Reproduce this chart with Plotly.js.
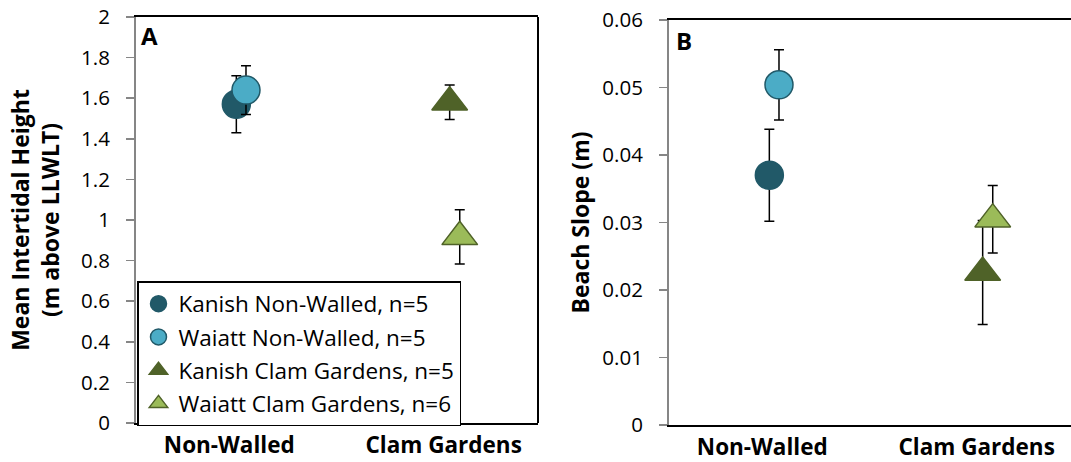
<!DOCTYPE html>
<html>
<head>
<meta charset="utf-8">
<script src="https://cdn.plot.ly/plotly-3.0.1.min.js"></script>
<style>html,body{margin:0;padding:0;background:#fff;}#chart{width:1071px;height:462px;}</style>
</head>
<body>
<div id="chart"></div>
<script>
// Data
const categories = ["Non-Walled", "Clam Gardens"];
const seriesNames = ["Kanish Non-Walled, n=5", "Waiatt Non-Walled, n=5", "Kanish Clam Gardens, n=5", "Waiatt Clam Gardens, n=6"];
const seriesCategory = [0, 0, 1, 1];
const seriesOffset = [0.033, 0.078, 0.028, 0.075];
const heightMean = [1.57, 1.64, 1.58, 0.917];
const heightErr  = [0.14, 0.12, 0.085, 0.134];
const slopeMean  = [0.0370, 0.0504, 0.0226, 0.0305];
const slopeErr   = [0.0068, 0.0052, 0.0077, 0.0050];
const heightTicks = [0, 0.2, 0.4, 0.6, 0.8, 1, 1.2, 1.4, 1.6, 1.8, 2];
const heightTickText = ["0", "0.2", "0.4", "0.6", "0.8", "1", "1.2", "1.4", "1.6", "1.8", "2"];
const slopeTicks = [0, 0.01, 0.02, 0.03, 0.04, 0.05, 0.06];
const slopeTickText = ["0", "0.01", "0.02", "0.03", "0.04", "0.05", "0.06"];

// Styles
const fillColors = ["#215968", "#4BACC6", "#4F6228", "#9BBB59"];
const lineColors = ["#215968", "#215968", "#4F6228", "#4F6228"];
const symbols = ["circle", "circle", "triangle-up", "triangle-up"];
const sizes = [28, 28, 31, 31];
const FONT = "'Open Sans', 'Noto Sans', sans-serif";

const traces = [];
function addPanel(means, errs, xa, ya, showLegend) {
  for (let i = 0; i < means.length; i++) {
    traces.push({
      type: "scatter", mode: "markers",
      x: [seriesCategory[i] + 1 + seriesOffset[i]],
      y: [means[i]],
      name: seriesNames[i],
      legendgroup: "g" + i,
      showlegend: showLegend,
      xaxis: xa, yaxis: ya,
      marker: {symbol: symbols[i], size: sizes[i], color: fillColors[i],
               line: {color: lineColors[i], width: 1.5}},
      error_y: {type: "data", array: [errs[i]], visible: true, color: "#000", thickness: 1.5, width: 5}
    });
  }
}
addPanel(heightMean, heightErr, "x", "y", true);
addPanel(slopeMean, slopeErr, "x2", "y2", false);

const W = 1071, H = 462;
const xA = [136 / W, 538 / W], yA = [(H - 423) / H, (H - 17) / H];
const xB = [669 / W, 1], yB = [(H - 425) / H, (H - 20) / H];

const xCommon = {
  range: [0.565, 2.44], tickvals: [1, 2], ticktext: categories,
  showline: true, linecolor: "#000", linewidth: 2, mirror: true,
  ticks: "", showgrid: false, zeroline: false, fixedrange: true,
  ticklabelstandoff: 1,
  tickfont: {family: FONT, size: 22.5, color: "#000", weight: "bold"}
};
const yCommon = {
  showline: true, linecolor: "#868686", linewidth: 2,
  ticks: "outside", ticklen: 8, tickcolor: "#868686", tickwidth: 1.5,
  showgrid: false, zeroline: false, fixedrange: true,
  ticklabelstandoff: 12,
  tickfont: {family: FONT, size: 20.5, color: "#000"}
};

const layout = {
  width: W, height: H,
  margin: {l: 0, r: 0, t: 0, b: 0},
  paper_bgcolor: "#fff", plot_bgcolor: "#fff",
  font: {family: FONT, color: "#000"},
  showlegend: true,
  xaxis: Object.assign({}, xCommon, {domain: xA, anchor: "y"}),
  yaxis: Object.assign({}, yCommon, {domain: yA, anchor: "x", range: [0, 2],
    tickvals: heightTicks, ticktext: heightTickText,
    title: {text: "Mean Intertidal Height<br>(m above LLWLT)", standoff: 15,
            font: {family: FONT, size: 23, color: "#000", weight: "bold"}}}),
  xaxis2: Object.assign({}, xCommon, {domain: xB, anchor: "y2"}),
  yaxis2: Object.assign({}, yCommon, {domain: yB, anchor: "x2", range: [0, 0.06],
    tickvals: slopeTicks, ticktext: slopeTickText,
    title: {text: "Beach Slope (m)", standoff: 6,
            font: {family: FONT, size: 23, color: "#000", weight: "bold"}}}),
  legend: {
    x: 137 / W, y: (H - 281) / H, xanchor: "left", yanchor: "top",
    bgcolor: "#fff", bordercolor: "#000", borderwidth: 1.5,
    font: {family: FONT, size: 22.5, color: "#000"},
    tracegroupgap: 1, itemclick: false, itemdoubleclick: false
  },
  shapes: [
    {type: "line", xref: "x domain", yref: "y domain", x0: 1, x1: 1, y0: 0, y1: 1,
     line: {color: "#000", width: 2}}
  ],
  annotations: [
    {text: "A", xref: "paper", yref: "paper", x: 139 / W, y: (H - 17) / H, xanchor: "left", yanchor: "top",
     showarrow: false, font: {family: FONT, size: 24, color: "#000", weight: "bold"}},
    {text: "B", xref: "paper", yref: "paper", x: 674 / W, y: (H - 22) / H, xanchor: "left", yanchor: "top",
     showarrow: false, font: {family: FONT, size: 24, color: "#000", weight: "bold"}}
  ]
};

Plotly.newPlot("chart", traces, layout, {displayModeBar: false, staticPlot: true});
</script>
</body>
</html>
